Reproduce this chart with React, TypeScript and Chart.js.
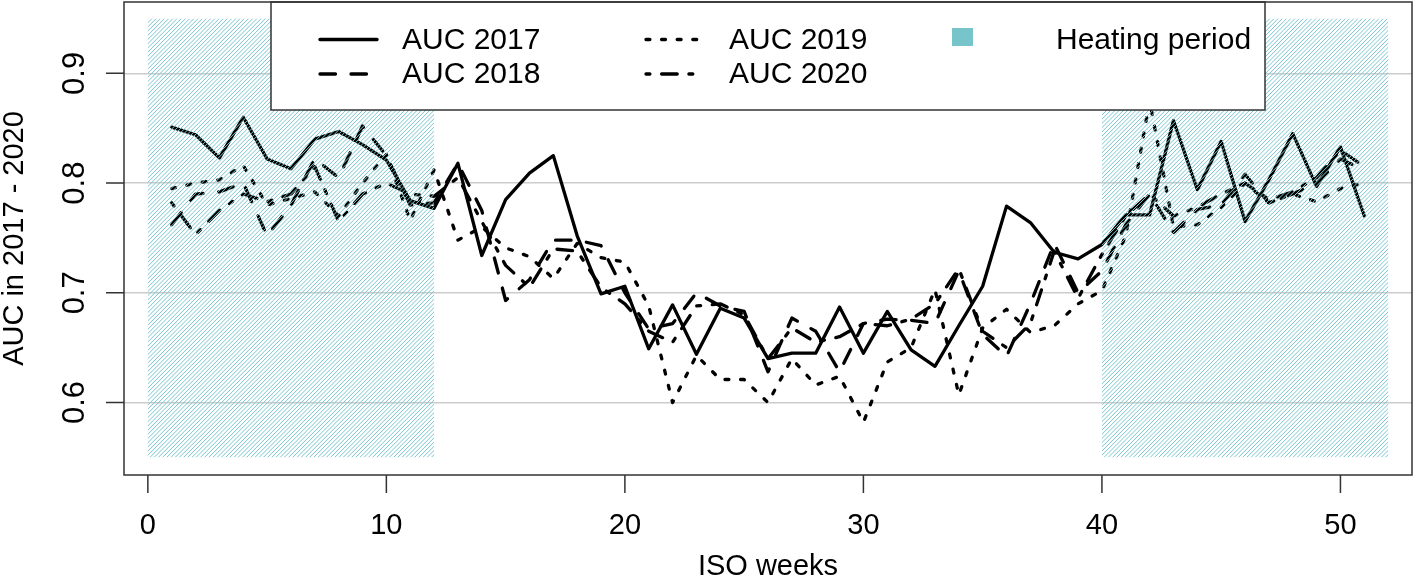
import React, { useEffect, useRef } from "react";
import { Chart, registerables } from "chart.js";

Chart.register(...registerables);

const weeks = [
  1, 2, 3, 4, 5, 6, 7, 8, 9, 10, 11, 12, 13, 14, 15, 16, 17, 18, 19, 20, 21, 22, 23, 24, 25, 26,
  27, 28, 29, 30, 31, 32, 33, 34, 35, 36, 37, 38, 39, 40, 41, 42, 43, 44, 45, 46, 47, 48, 49, 50, 51,
];

const auc2017 = [
  0.851, 0.844, 0.823, 0.86, 0.822, 0.813, 0.84, 0.847, 0.835, 0.821,
  0.784, 0.777, 0.818, 0.734, 0.785, 0.809, 0.825, 0.752, 0.699, 0.706,
  0.649, 0.689, 0.644, 0.686, 0.677, 0.64, 0.645, 0.645, 0.687, 0.645,
  0.683, 0.648, 0.633, 0.67, 0.706, 0.779, 0.764, 0.737, 0.731, 0.744,
  0.771, 0.771, 0.857, 0.794, 0.838, 0.765, 0.803, 0.845, 0.797, 0.833, 0.77,
];

const auc2018 = [
  0.762, 0.79, 0.792, 0.8, 0.752, 0.78, 0.822, 0.805, 0.852, 0.825,
  0.78, 0.782, 0.818, 0.775, 0.693, 0.712, 0.748, 0.748, 0.743, 0.7,
  0.667, 0.672, 0.7, 0.688, 0.683, 0.628, 0.677, 0.665, 0.628, 0.672,
  0.676, 0.675, 0.672, 0.72, 0.662, 0.642, 0.69, 0.745, 0.7, 0.72,
  0.762, 0.79, 0.755, 0.776, 0.78, 0.808, 0.782, 0.79, 0.8, 0.822, 0.812,
];

const auc2019 = [
  0.795, 0.8, 0.803, 0.816, 0.78, 0.786, 0.792, 0.77, 0.8, 0.826,
  0.766, 0.812, 0.748, 0.76, 0.741, 0.733, 0.713, 0.745, 0.732, 0.728,
  0.688, 0.6, 0.643, 0.621, 0.621, 0.6, 0.64, 0.616, 0.624, 0.582,
  0.637, 0.65, 0.703, 0.607, 0.668, 0.685, 0.664, 0.67, 0.69, 0.702,
  0.752, 0.875, 0.76, 0.762, 0.778, 0.8, 0.782, 0.79, 0.783, 0.795, 0.8,
];

const auc2020 = [
  0.782, 0.753, 0.775, 0.79, 0.783, 0.79, 0.815, 0.765, 0.79, 0.8,
  0.79, 0.788, 0.805, 0.765, 0.725, 0.705, 0.74, 0.738, 0.705, 0.69,
  0.665, 0.655, 0.688, 0.69, 0.68, 0.64, 0.668, 0.655, 0.66, 0.672,
  0.67, 0.676, 0.69, 0.722, 0.665, 0.65, 0.672, 0.738, 0.695, 0.735,
  0.77, 0.79, 0.77, 0.778, 0.79, 0.8, 0.785, 0.792, 0.805, 0.83, 0.815,
];

const seriesLabels = ["AUC 2017", "AUC 2018", "AUC 2019", "AUC 2020"];
const heatingLabel = "Heating period";
const heatingPeriods = [
  [0, 12],
  [40, 52],
];
const heatingRange = [0.55, 0.95];
const xTicks = [0, 10, 20, 30, 40, 50];
const yTicks = [0.6, 0.7, 0.8, 0.9];
const xTitle = "ISO weeks";
const yTitle = "AUC in 2017 - 2020";

const FONT = '"Liberation Sans", Arial, sans-serif';
const HATCH = "#7AC5CD";
const LW = 3.3;
const dashes: number[][] = [[], [15.5, 15.5], [3.9, 11.7], [3.9, 11.7, 15.6, 11.7]];

const overlay = {
  id: "overlay",
  afterDatasetsDraw(chart: any) {
    const { ctx, chartArea } = chart;
    const xs = chart.scales.x;
    const ys = chart.scales.y;
    // hatched heating periods (drawn over the lines, as in the original)
    for (const [a, b] of heatingPeriods) {
      const x0 = xs.getPixelForValue(a);
      const x1 = xs.getPixelForValue(b);
      const y0 = ys.getPixelForValue(heatingRange[1]);
      const y1 = ys.getPixelForValue(heatingRange[0]);
      ctx.save();
      ctx.beginPath();
      ctx.rect(x0, y0, x1 - x0, y1 - y0);
      ctx.clip();
      ctx.strokeStyle = HATCH;
      ctx.lineWidth = 1;
      const h = y1 - y0;
      for (let s = x0 - h; s < x1 + 2; s += 4.2) {
        ctx.beginPath();
        ctx.moveTo(s, y1);
        ctx.lineTo(s + h, y0);
        ctx.stroke();
      }
      ctx.restore();
    }

    // legend
    ctx.save();
    const lx0 = 271, lx1 = 1265, ly0 = chartArea.top, ly1 = 110;
    ctx.fillStyle = "#fff";
    ctx.fillRect(lx0, ly0, lx1 - lx0, ly1 - ly0);
    ctx.strokeStyle = "#333";
    ctx.lineWidth = 1.5;
    ctx.strokeRect(lx0, ly0, lx1 - lx0, ly1 - ly0);
    const rows = [39.5, 74];
    const cols = [
      { sx: 320, ex: 377, tx: 402 },
      { sx: 646, ex: 701, tx: 729 },
    ];
    ctx.font = `30px ${FONT}`;
    ctx.textBaseline = "middle";
    ctx.textAlign = "left";
    seriesLabels.forEach((lab, i) => {
      const c = cols[Math.floor(i / 2)];
      const r = rows[i % 2];
      ctx.save();
      ctx.strokeStyle = "#000";
      ctx.lineWidth = LW;
      ctx.lineCap = "round";
      ctx.setLineDash(dashes[i]);
      ctx.beginPath();
      ctx.moveTo(c.sx, r);
      ctx.lineTo(c.ex, r);
      ctx.stroke();
      ctx.restore();
      ctx.fillStyle = "#000";
      ctx.fillText(lab, c.tx, r + 1);
    });
    ctx.fillStyle = "#77C4CB";
    ctx.fillRect(952, 28, 21, 18);
    ctx.fillStyle = "#000";
    ctx.fillText(heatingLabel, 1056, rows[0] + 1);
    ctx.restore();
  },
  afterDraw(chart: any) {
    const { ctx, chartArea } = chart;
    const xs = chart.scales.x;
    const ys = chart.scales.y;
    ctx.save();
    // plot box
    ctx.strokeStyle = "#333";
    ctx.lineWidth = 1.5;
    ctx.strokeRect(chartArea.left, chartArea.top, chartArea.right - chartArea.left, chartArea.bottom - chartArea.top);
    // ticks
    ctx.beginPath();
    for (const t of xTicks) {
      const px = xs.getPixelForValue(t);
      ctx.moveTo(px, chartArea.bottom);
      ctx.lineTo(px, chartArea.bottom + 18);
    }
    for (const t of yTicks) {
      const py = ys.getPixelForValue(t);
      ctx.moveTo(chartArea.left, py);
      ctx.lineTo(chartArea.left - 18, py);
    }
    ctx.stroke();
    ctx.fillStyle = "#000";
    ctx.font = `29px ${FONT}`;
    ctx.textAlign = "center";
    ctx.textBaseline = "middle";
    for (const t of xTicks) {
      ctx.fillText(String(t), xs.getPixelForValue(t), 526);
    }
    ctx.font = `31px ${FONT}`;
    for (const t of yTicks) {
      ctx.save();
      ctx.translate(75, ys.getPixelForValue(t));
      ctx.rotate(-Math.PI / 2);
      ctx.fillText(t.toFixed(1), 0, 0);
      ctx.restore();
    }
    ctx.font = `29px ${FONT}`;
    ctx.fillText(xTitle, (chartArea.left + chartArea.right) / 2, 567);
    ctx.save();
    ctx.translate(15, (chartArea.top + chartArea.bottom) / 2);
    ctx.rotate(-Math.PI / 2);
    ctx.fillText(yTitle, 0, 0);
    ctx.restore();
    ctx.restore();
  },
};

export default function App() {
  const ref = useRef<HTMLCanvasElement | null>(null);
  useEffect(() => {
    const series = [auc2017, auc2018, auc2019, auc2020];
    const chart = new Chart(ref.current as HTMLCanvasElement, {
      type: "line",
      data: {
        datasets: series.map((vals, i) => ({
          label: seriesLabels[i],
          data: weeks.map((w, k) => ({ x: w, y: vals[k] })),
          borderColor: "#000",
          borderWidth: LW,
          borderDash: dashes[i],
          borderCapStyle: "round" as const,
          borderJoinStyle: "round" as const,
          pointRadius: 0,
          tension: 0,
          fill: false,
        })),
      },
      options: {
        responsive: false,
        animation: false,
        events: [],
        layout: { padding: { top: 2, right: 2, left: 0, bottom: 0 } },
        plugins: { legend: { display: false }, tooltip: { enabled: false }, title: { display: false } },
        scales: {
          x: {
            type: "linear",
            min: -1,
            max: 53,
            grid: { display: false },
            border: { display: false },
            ticks: { display: false },
            afterBuildTicks: (s: any) => {
              s.ticks = xTicks.map((v) => ({ value: v }));
            },
            afterFit: (s: any) => {
              s.height = 104;
            },
          },
          y: {
            type: "linear",
            min: 0.534,
            max: 0.965,
            grid: { color: "#cccccc", lineWidth: 1.5, drawTicks: false },
            border: { display: false },
            ticks: { display: false },
            afterBuildTicks: (s: any) => {
              s.ticks = yTicks.map((v) => ({ value: v }));
            },
            afterFit: (s: any) => {
              s.width = 124;
            },
          },
        },
      },
      plugins: [overlay],
    });
    return () => chart.destroy();
  }, []);
  return (
    <div style={{ position: "absolute", left: 0, top: 0, width: 1414, height: 579, background: "#fff" }}>
      <canvas ref={ref} width={1414} height={579} style={{ display: "block" }} />
    </div>
  );
}
